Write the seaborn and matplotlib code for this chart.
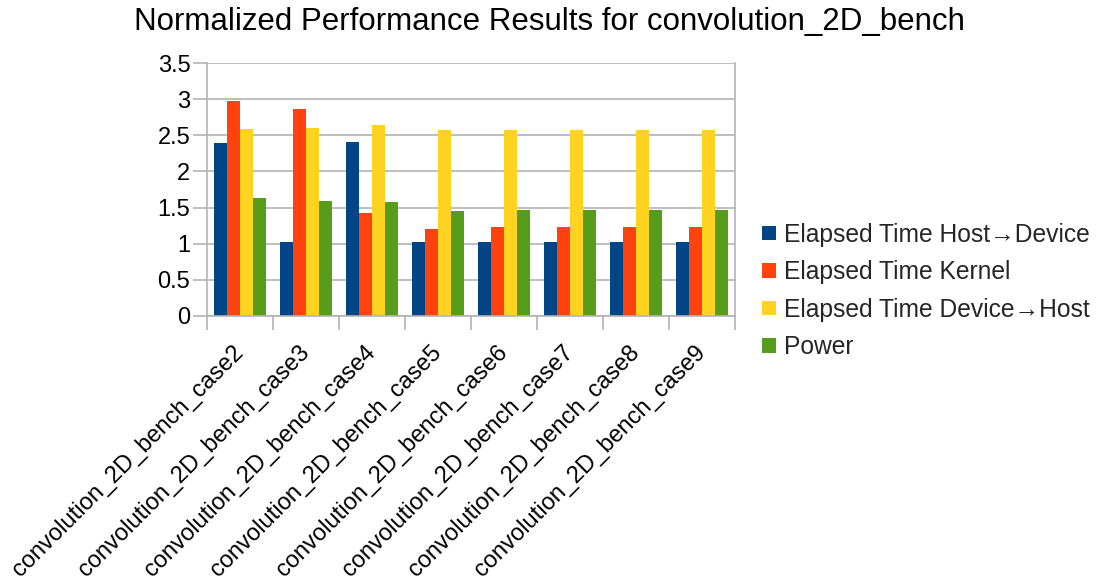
import matplotlib
matplotlib.use("Agg")
import matplotlib.pyplot as plt
import seaborn as sns
import pandas as pd
from matplotlib.ticker import MultipleLocator, FixedLocator, NullFormatter

categories = ["convolution_2D_bench_case2", "convolution_2D_bench_case3",
              "convolution_2D_bench_case4", "convolution_2D_bench_case5",
              "convolution_2D_bench_case6", "convolution_2D_bench_case7",
              "convolution_2D_bench_case8", "convolution_2D_bench_case9"]
series_names = ["Elapsed Time Host\u2192Device", "Elapsed Time Kernel",
                "Elapsed Time Device\u2192Host", "Power"]
host_to_device = [2.39, 1.02, 2.41, 1.02, 1.03, 1.03, 1.03, 1.03]
kernel = [2.97, 2.87, 1.43, 1.20, 1.23, 1.23, 1.23, 1.23]
device_to_host = [2.59, 2.60, 2.64, 2.58, 2.58, 2.58, 2.58, 2.58]
power = [1.63, 1.59, 1.58, 1.45, 1.46, 1.46, 1.46, 1.46]
colors = ["#004586", "#ff420e", "#ffd320", "#579d1c"]
title = "Normalized Performance Results for convolution_2D_bench"

rows = []
for name, vals in zip(series_names, [host_to_device, kernel, device_to_host, power]):
    for c, v in zip(categories, vals):
        rows.append({"case": c, "series": name, "value": v})
df = pd.DataFrame(rows)

sns.set_theme(style="white")
plt.rcParams["font.family"] = ["Liberation Sans", "DejaVu Sans"]

fig = plt.figure(figsize=(11.05, 5.83), dpi=100)
ax = fig.add_axes([207 / 1105, 1 - 316 / 583, (735 - 207) / 1105, (316 - 63) / 583])

sns.barplot(data=df, x="case", y="value", hue="series", order=categories,
            hue_order=series_names, palette=colors, width=0.8, ax=ax,
            saturation=1, linewidth=0, errorbar=None)

gc = "#b3b3b3"
ax.set_ylim(0, 3.5)
ax.set_xlim(-0.5, len(categories) - 0.5)
ax.yaxis.set_major_locator(MultipleLocator(0.5))
ax.set_yticklabels([("%g" % t) for t in ax.get_yticks()])
ax.grid(axis="y", color=gc, linewidth=1.2)
ax.set_axisbelow(True)
for s in ["left", "right", "bottom"]:
    ax.spines[s].set_color(gc)
    ax.spines[s].set_linewidth(1.2)
ax.spines["top"].set_visible(False)
ax.tick_params(axis="y", length=10, color=gc, width=1.2, labelsize=17,
               pad=2, labelcolor="#000000", left=True)
ax.xaxis.set_minor_locator(FixedLocator([i - 0.5 for i in range(len(categories) + 1)]))
ax.xaxis.set_minor_formatter(NullFormatter())
ax.tick_params(axis="x", which="minor", length=10, color=gc, width=1.2, bottom=True)
ax.tick_params(axis="x", which="major", length=0, labelsize=17, pad=24,
               labelcolor="#000000")
for lab in ax.get_xticklabels():
    lab.set_rotation(45)
    lab.set_ha("right")
    lab.set_va("center")
    lab.set_rotation_mode("anchor")
ax.set_xlabel("")
ax.set_ylabel("")

handles, labels = ax.get_legend_handles_labels()
ax.get_legend().remove()
fig.legend(handles, labels, loc="center left", bbox_to_anchor=(762 / 1105, 1 - 291 / 583),
           frameon=False, fontsize=17.7, handlelength=0.55, handleheight=0.55,
           handletextpad=0.35, labelspacing=0.55, borderaxespad=0, borderpad=0)

fig.text(549 / 1105, 1 - 22 / 583, title, ha="center", va="center", fontsize=22.5,
         color="#000000")

fig.savefig("out.png", dpi=100)
